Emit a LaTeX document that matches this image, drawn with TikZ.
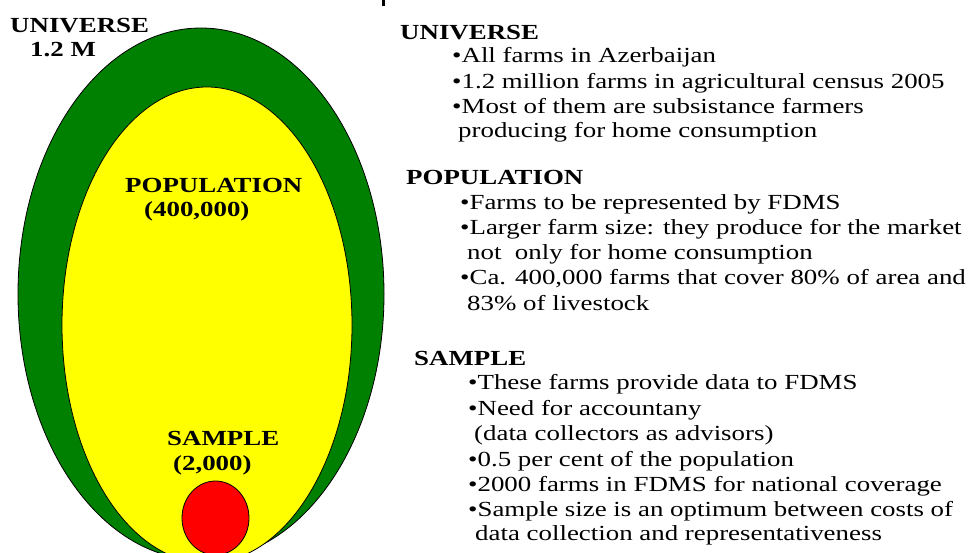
\documentclass[tikz,border=0pt]{standalone}
\usepackage{fontspec}
\setmainfont{Liberation Serif}[FakeStretch=1.25]
\definecolor{ugreen}{HTML}{008000}
\definecolor{uyellow}{HTML}{FFFF00}
\definecolor{ured}{HTML}{FF0000}
\tikzset{
  lbl/.style={anchor=base west, inner sep=0pt, font=\fontsize{21.5}{25}\selectfont\bfseries},
  txt/.style={anchor=base west, inner sep=0pt, font=\fontsize{21.5}{25}\selectfont},
  ring/.style={draw=black, line width=0.8pt}
}
\begin{document}
\begin{tikzpicture}[x=1pt,y=-1pt]
\useasboundingbox (0,0) rectangle (970,553);
\begin{scope}
\clip (0,0) rectangle (970,553);
\fill[white] (0,0) rectangle (970,553);
\draw[ring, fill=ugreen] (201,294) ellipse [x radius=183, y radius=266];
\draw[ring, fill=uyellow] (207,325) ellipse [x radius=145, y radius=238];
\draw[ring, fill=ured] (215.5,518) ellipse [x radius=33.5, y radius=37];
\fill[black] (382,0) rectangle (385,6);
\end{scope}
% left labels
\node[lbl] (uni) at (10,33) {UNIVERSE};
\node[lbl] (unin) at (30,57) {1.2 M};
\node[lbl] (pop) at (125,193) {POPULATION};
\node[lbl] (popn) at (144,217) {(400,000)};
\node[lbl] (smp) at (167,446) {SAMPLE};
\node[lbl] (smpn) at (173,470) {(2,000)};
% universe block
\node[lbl] (uh) at (400,40) {UNIVERSE};
\node[txt] (u1) at (452,63) {•All farms in Azerbaijan};
\node[txt] (u2) at (452,89) {•1.2 million farms in agricultural census 2005};
\node[txt] (u3) at (452,114) {•Most of them are subsistance farmers};
\node[txt] (u4) at (458,138) {producing for home consumption};
% population block
\node[lbl] (ph) at (406,185) {POPULATION};
\node[txt] (p1) at (460,210) {•Farms to be represented by FDMS};
\node[txt] (p2) at (460,235) {•Larger farm size: they produce for the market};
\node[txt] (p3) at (467,260) {not\ \ only for home consumption};
\node[txt] (p4) at (460,285) {•Ca. 400,000 farms that cover 80\% of area and};
\node[txt] (p5) at (467,311) {83\% of livestock};
% sample block
\node[lbl] (sh) at (414,366) {SAMPLE};
\node[txt] (s1) at (468,390) {•These farms provide data to FDMS};
\node[txt] (s2) at (468,416) {•Need for accountany};
\node[txt] (s3) at (474,441) {(data collectors as advisors)};
\node[txt] (s4) at (468,466) {•0.5 per cent of the population};
\node[txt] (s5) at (468,491) {•2000 farms in FDMS for national coverage};
\node[txt] (s6) at (468,516) {•Sample size is an optimum between costs of};
\node[txt] (s7) at (475,540) {data collection and representativeness};
\end{tikzpicture}
\end{document}
